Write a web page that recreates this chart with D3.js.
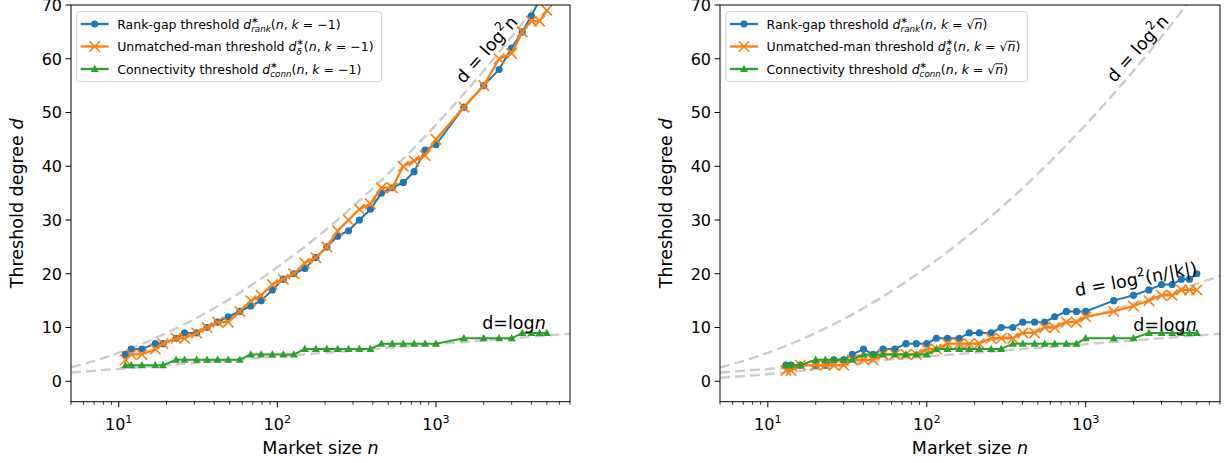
<!DOCTYPE html>
<html><head><meta charset="utf-8">
<script src="https://cdn.jsdelivr.net/npm/d3@7"></script>
<style>
html,body{margin:0;padding:0;background:#fff;}
text{font-family:"DejaVu Sans",sans-serif;white-space:pre;fill:#000;}
</style></head>
<body><svg id="c" width="1230" height="463"></svg>
<script>
// ---------- data ----------
const nLeft = [11,12,14,17,19,23,26,31,36,42,49,58,68,79,93,109,127,149,175,205,240,281,329,386,453,530,622,728,854,1000,1500,2000,2500,3000,3500,4000,4500,5000];
const rankLeft = [5,6,6,7,7,8,9,9,10,11,12,13,14,15,17,19,20,21,23,25,27,28,30,32,35,36,37,39,43,44,51,55,58,62,65,68,71,73];
const deltaLeft = [4,5,5,6,7,8,8,9,10,11,11,13,15,16,18,19,20,22,23,25,28,30,32,33,36,36,40,41,42,45,51,55,60,61,65,67,67,69];
const connLeft = [3,3,3,3,3,4,4,4,4,4,4,4,5,5,5,5,5,6,6,6,6,6,6,6,7,7,7,7,7,7,8,8,8,8,9,9,9,9];

const nRight = [13,14,16,20,23,26,30,34,40,46,53,63,74,86,100,115,135,160,185,214,254,294,348,402,477,552,638,756,875,1000,1500,2000,2500,3000,3500,4000,4500,5000];
const rankRight = [3,3,3,3,3,4,4,5,6,5,6,6,7,7,7,8,8,8,9,9,9,10,10,11,11,11,12,13,13,13,15,16,17,18,18,19,19,20];
const deltaRight = [2,2,3,3,3,3,3,4,4,4,5,5,5,5,6,6,7,7,7,7,8,8,8,9,9,10,10,11,11,12,13,14,15,16,16,17,17,17];
const connRight = [3,3,3,4,4,4,4,4,5,5,5,5,5,5,5,6,6,6,6,6,6,6,7,7,7,7,7,7,7,8,8,8,9,9,9,9,9,9];

const yTicks = [0,10,20,30,40,50,60,70];
const xMajorTicks = [10,100,1000];
const xDomain = [5,7000];
const yDomain = [-3.8,70];

const colors = {rank:"#1f77b4", delta:"#ff7f0e", conn:"#2ca02c", ref:"#cccccc"};

// ---------- helpers ----------
const svg = d3.select("#c");

function rich(parent, parts, size){
  // draws rich text at (0,0) baseline; returns width
  let x = 0, lastStart = 0, lastW = 0;
  parts.forEach(p=>{
    const fs = size*(p.s||1);
    const sx = p.stack ? lastStart : x;
    const t = parent.append("text").attr("x", sx).attr("y", (p.dy||0)*size)
      .attr("font-size", fs).style("font-style", p.i ? "italic" : "normal").text(p.t);
    const w = t.node().getComputedTextLength();
    if (p.over) parent.append("line").attr("x1", sx).attr("x2", sx+w)
      .attr("y1", -0.78*fs).attr("y2", -0.78*fs).attr("stroke","#000").attr("stroke-width",0.9);
    if (p.stack){ x = lastStart + Math.max(lastW, w); }
    else { lastStart = sx; lastW = w; x = sx + w; }
  });
  return x;
}
function richCentered(parent, parts, size, anchor){
  const g = parent.append("g");
  const w = rich(g, parts, size);
  const a = anchor===undefined ? 0.5 : anchor;
  g.attr("transform", `translate(${-w*a},0)`);
  return w;
}

const markers = {
  rank: (g)=>g.append("circle").attr("r",3.6).attr("fill",colors.rank),
  delta: (g)=>g.append("path").attr("d","M-5.2,-5.2L5.2,5.2M-5.2,5.2L5.2,-5.2").attr("stroke",colors.delta).attr("stroke-width",1.6).attr("fill","none"),
  conn: (g)=>g.append("path").attr("d","M0,-4.2L4,3L-4,3Z").attr("fill",colors.conn)
};

function panel(cfg){
  const x = d3.scaleLog().domain(xDomain).range([cfg.x0, cfg.x1]);
  const y = d3.scaleLinear().domain(yDomain).range([401.7, 5]);
  const root = svg.append("g");
  const clipId = "clip"+cfg.id;
  root.append("clipPath").attr("id", clipId).append("rect")
    .attr("x", cfg.x0).attr("y", 5).attr("width", cfg.x1-cfg.x0).attr("height", 401.7-5);
  const plot = root.append("g").attr("clip-path", `url(#${clipId})`);

  // reference curves
  const ns = d3.range(0,301).map(i=>Math.pow(10, Math.log10(xDomain[0]) + i*(Math.log10(xDomain[1])-Math.log10(xDomain[0]))/300));
  const refLine = d3.line().x(d=>x(d[0])).y(d=>y(d[1]));
  cfg.refs.forEach(f=>{
    plot.append("path").attr("d", refLine(ns.map(n=>[n,f(n)])))
      .attr("fill","none").attr("stroke",colors.ref).attr("stroke-width",2.4)
      .attr("stroke-dasharray","10,5");
  });

  // series
  const line = d3.line().x(d=>x(d[0])).y(d=>y(d[1]));
  cfg.series.forEach(s=>{
    const pts = cfg.n.map((n,i)=>[n, s.vals[i]]);
    plot.append("path").attr("d", line(pts)).attr("fill","none")
      .attr("stroke", colors[s.key]).attr("stroke-width", s.key==="delta"?2.3:2);
    pts.forEach(p=>{
      const g = plot.append("g").attr("transform",`translate(${x(p[0])},${y(p[1])})`);
      markers[s.key](g);
    });
  });

  // axes frame
  root.append("rect").attr("x",cfg.x0).attr("y",5).attr("width",cfg.x1-cfg.x0).attr("height",401.7-5)
    .attr("fill","none").attr("stroke","#000").attr("stroke-width",1);

  // y ticks
  yTicks.forEach(t=>{
    const yy = y(t);
    root.append("line").attr("x1",cfg.x0-5.5).attr("x2",cfg.x0).attr("y1",yy).attr("y2",yy).attr("stroke","#000");
    root.append("text").attr("x",cfg.x0-9).attr("y",yy+5.8).attr("text-anchor","end").attr("font-size",16).text(String(t));
  });
  // x ticks
  const minor = [];
  [1,10,100,1000].forEach(dec=>{ for(let m=2;m<=9;m++){ const v=m*dec; if(v>=xDomain[0]&&v<=xDomain[1]) minor.push(v);} });
  minor.forEach(v=>{
    root.append("line").attr("x1",x(v)).attr("x2",x(v)).attr("y1",401.7).attr("y2",401.7+3).attr("stroke","#000").attr("stroke-width",0.8);
  });
  xMajorTicks.forEach(v=>{
    const xx = x(v);
    root.append("line").attr("x1",xx).attr("x2",xx).attr("y1",401.7).attr("y2",401.7+5.5).attr("stroke","#000");
    const g = root.append("g").attr("transform",`translate(${xx},430)`);
    richCentered(g, [{t:"10"},{t:String(Math.round(Math.log10(v))), s:0.7, dy:-0.45}], 16);
  });

  // axis labels
  const xl = root.append("g").attr("transform",`translate(${(cfg.x0+cfg.x1)/2},454)`);
  richCentered(xl, [{t:"Market size "},{t:"n",i:1}], 17.5);
  const yl = root.append("g").attr("transform",`translate(${cfg.x0-48},${(5+401.7)/2}) rotate(-90)`);
  richCentered(yl, [{t:"Threshold degree "},{t:"d",i:1}], 17.5);

  // annotations
  cfg.annos.forEach(a=>{
    const g = root.append("g").attr("transform",`translate(${a.x},${a.y}) rotate(${a.rot||0})`);
    richCentered(g, a.parts, a.size||17.5);
  });

  // legend
  const lg = root.append("g");
  const b = cfg.legend;
  lg.append("rect").attr("x",b.x).attr("y",b.y).attr("width",b.w).attr("height",b.h)
    .attr("rx",3).attr("fill","#fff").attr("fill-opacity",0.8).attr("stroke","#d0d0d0").attr("stroke-width",1);
  const rows = [24,46.5,69];
  cfg.series.forEach((s,i)=>{
    const cy = rows[i];
    lg.append("line").attr("x1",b.x+4).attr("x2",b.x+32).attr("y1",cy).attr("y2",cy)
      .attr("stroke",colors[s.key]).attr("stroke-width",2.3);
    const mg = lg.append("g").attr("transform",`translate(${b.x+18},${cy})`);
    markers[s.key](mg);
    const tg = lg.append("g").attr("transform",`translate(${b.x+40.5},${cy+4.5})`);
    rich(tg, s.label, 12.5);
  });
}

function lab(prefix, sub, kParts){
  return [{t:prefix},{t:"d",i:1},{t:"∗",s:0.7,dy:-0.45},{t:sub,i:1,s:0.7,dy:0.3,stack:1},{t:"("},{t:"n",i:1},{t:", "},{t:"k",i:1}].concat(kParts);
}
const kLeft = [{t:" = "},{t:"−1", s:1}, {t:")"}];
const kRight = [{t:" = √"},{t:"n",i:1,over:1},{t:")"}];

const ln = Math.log;
panel({
  id:"L", x0:71, x1:570, n:nLeft,
  refs:[n=>ln(n)*ln(n), n=>ln(n)],
  series:[
    {key:"rank", vals:rankLeft, label:lab("Rank-gap threshold ","rank",kLeft)},
    {key:"delta", vals:deltaLeft, label:lab("Unmatched-man threshold ","δ",kLeft)},
    {key:"conn", vals:connLeft, label:lab("Connectivity threshold ","conn",kLeft)}
  ],
  legend:{x:76.7,y:11.7,w:305,h:70},
  annos:[
    {x:491,y:53.5,rot:-48,parts:[{t:"d = log"},{t:"2",s:0.7,dy:-0.45},{t:"n"}]},
    {x:514,y:328.5,parts:[{t:"d=log"},{t:"n",i:1}]}
  ]
});
panel({
  id:"R", x0:720, x1:1220, n:nRight,
  refs:[n=>ln(n)*ln(n), n=>ln(n), n=>ln(n)*ln(n)/4],
  series:[
    {key:"rank", vals:rankRight, label:lab("Rank-gap threshold ","rank",kRight)},
    {key:"delta", vals:deltaRight, label:lab("Unmatched-man threshold ","δ",kRight)},
    {key:"conn", vals:connRight, label:lab("Connectivity threshold ","conn",kRight)}
  ],
  legend:{x:726,y:11.7,w:301.3,h:70},
  annos:[
    {x:1142,y:52.5,rot:-48,parts:[{t:"d = log"},{t:"2",s:0.7,dy:-0.45},{t:"n"}]},
    {x:1137,y:285,rot:-10.5,parts:[{t:"d = log"},{t:"2",s:0.7,dy:-0.45},{t:"(n/|k|)"}]},
    {x:1165,y:330.5,parts:[{t:"d=log"},{t:"n",i:1}]}
  ]
});
</script></body></html>
